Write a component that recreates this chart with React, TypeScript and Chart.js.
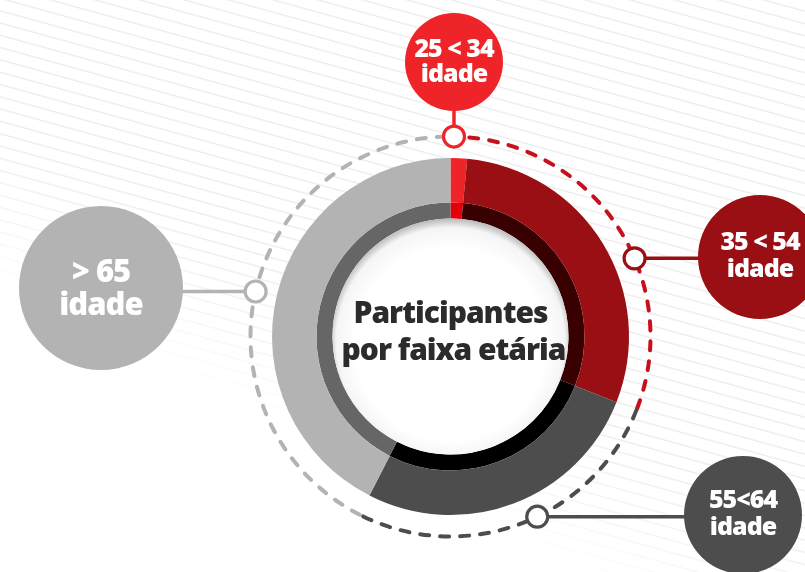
import React, { useEffect, useRef } from "react";
import { Chart, registerables } from "chart.js";

Chart.register(...registerables);

// ---- data ----
const ageGroups = ["25 < 34", "35 < 54", "55<64", "> 65"];
const ageUnit = "idade";
const participants = [1.5, 29.5, 26.5, 42.5];
const centerTitle = ["Participantes", "por faixa etária"];

// ---- styles ----
const outerColors = ["#ef2428", "#990f13", "#4d4d4d", "#b3b3b3"];
const innerColors = ["#e3000b", "#380000", "#000000", "#666666"];
const dashColors = ["#c8101c", "#c8101c", "#4d4d4d", "#b3b3b3"];
const bubbleColors = ["#ef2428", "#990f13", "#4d4d4d", "#b3b3b3"];

// label layout (marker angle clockwise from top, bubble center, radius, font size, connector direction)
const labelLayout = [
  { angle: 1, bx: 454, by: 62, br: 49, size: 25, dir: "up", l1: 57, l2: 82 },
  { angle: 67, bx: 760, by: 257, br: 62, size: 25, dir: "right", l1: 250, l2: 277 },
  { angle: 154.3, bx: 743, by: 515, br: 59, size: 25, dir: "right", l1: 508, l2: 535 },
  { angle: 283, bx: 101, by: 288, br: 82, size: 31, dir: "left", l1: 282, l2: 315 },
];

const decorPlugin = {
  id: "decor",
  beforeDraw(chart: any) {
    const ctx = chart.ctx as CanvasRenderingContext2D;
    const W = chart.width;
    const H = chart.height;
    ctx.save();
    ctx.fillStyle = "#ffffff";
    ctx.fillRect(0, 0, W, H);
    const g = ctx.createLinearGradient(-53, 108, -119, 243);
    g.addColorStop(0, "rgba(238,238,238,1)");
    g.addColorStop(1, "rgba(238,238,238,0)");
    ctx.strokeStyle = g;
    ctx.lineWidth = 1.5;
    const slope = 0.276;
    for (let y0 = -260; y0 < H + 20; y0 += 12.3) {
      ctx.beginPath();
      ctx.moveTo(0, y0);
      ctx.lineTo(W, y0 + W * slope);
      ctx.stroke();
    }
    ctx.restore();
  },
  afterDatasetsDraw(chart: any) {
    const ctx = chart.ctx as CanvasRenderingContext2D;
    const outerMeta = chart.getDatasetMeta(0);
    const innerMeta = chart.getDatasetMeta(1);
    const a0 = outerMeta.data[0];
    const cx = a0.x;
    const cy = a0.y;
    const rOuter = a0.outerRadius;
    const rHole = innerMeta.data[0].innerRadius;
    const rDash = rOuter + 21.5;

    ctx.save();
    // center white disc with soft inner shadow
    ctx.beginPath();
    ctx.arc(cx, cy, rHole, 0, Math.PI * 2);
    ctx.fillStyle = "#ffffff";
    ctx.fill();
    const sg = ctx.createRadialGradient(cx, cy + 8, rHole - 22, cx, cy + 4, rHole + 4);
    sg.addColorStop(0, "rgba(0,0,0,0)");
    sg.addColorStop(0.7, "rgba(0,0,0,0.04)");
    sg.addColorStop(1, "rgba(0,0,0,0.28)");
    ctx.beginPath();
    ctx.arc(cx, cy, rHole, 0, Math.PI * 2);
    ctx.fillStyle = sg;
    ctx.fill();

    // center title
    ctx.fillStyle = "#2b2b2b";
    ctx.font = '800 30px "Open Sans"';
    ctx.textAlign = "center";
    ctx.textBaseline = "alphabetic";
    (ctx as any).letterSpacing = "-1px";
    ctx.fillText(centerTitle[0], cx, cy - 13.5);
    ctx.fillText(centerTitle[1], cx + 3, cy + 23.5);
    (ctx as any).letterSpacing = "0px";

    // dashed ring per segment
    ctx.lineWidth = 4;
    ctx.lineCap = "round";
    ctx.setLineDash([9, 11]);
    outerMeta.data.forEach((arc: any, i: number) => {
      ctx.beginPath();
      ctx.arc(cx, cy, rDash, arc.startAngle, arc.endAngle);
      ctx.strokeStyle = dashColors[i];
      ctx.stroke();
    });
    ctx.setLineDash([]);
    ctx.lineCap = "butt";

    // connectors, markers, bubbles
    labelLayout.forEach((L, i) => {
      const th = (L.angle * Math.PI) / 180 - Math.PI / 2;
      const mx = cx + rDash * Math.cos(th);
      const my = cy + rDash * Math.sin(th);
      const col = bubbleColors[i];
      ctx.strokeStyle = col;
      ctx.lineWidth = 3.5;
      ctx.beginPath();
      ctx.moveTo(mx, my);
      if (L.dir === "up") ctx.lineTo(mx, L.by);
      else ctx.lineTo(L.bx, my);
      ctx.stroke();

      ctx.beginPath();
      ctx.arc(L.bx, L.by, L.br, 0, Math.PI * 2);
      ctx.fillStyle = col;
      ctx.fill();

      ctx.beginPath();
      ctx.arc(mx, my, 10.5, 0, Math.PI * 2);
      ctx.fillStyle = "#ffffff";
      ctx.fill();
      ctx.lineWidth = 3.2;
      ctx.stroke();

      ctx.fillStyle = "#ffffff";
      ctx.font = `800 ${L.size}px "Open Sans"`;
      ctx.textAlign = "center";
      (ctx as any).letterSpacing = "-1px";
      ctx.fillText(ageGroups[i], L.bx, L.l1);
      ctx.fillText(ageUnit, L.bx, L.l2);
      (ctx as any).letterSpacing = "0px";
    });
    ctx.restore();
  },
};

export default function App() {
  const ref = useRef<HTMLCanvasElement | null>(null);
  useEffect(() => {
    document.body.style.margin = "0";
    const canvas = ref.current;
    if (!canvas) return;
    const chart = new Chart(canvas, {
      type: "doughnut",
      data: {
        labels: ageGroups,
        datasets: [
          {
            data: participants,
            backgroundColor: outerColors,
            borderWidth: 0,
            weight: 44.5,
          } as any,
          {
            data: participants,
            backgroundColor: innerColors,
            borderWidth: 0,
            weight: 16,
          } as any,
        ],
      },
      options: {
        responsive: false,
        animation: false,
        cutout: 118,
        layout: { padding: { left: 272, right: 176, top: 158, bottom: 57 } },
        plugins: { legend: { display: false }, tooltip: { enabled: false } },
        events: [],
      } as any,
      plugins: [decorPlugin],
    });
    return () => chart.destroy();
  }, []);
  return (
    <div style={{ width: 805, height: 572, overflow: "hidden" }}>
      <canvas ref={ref} width={805} height={572} style={{ display: "block" }} />
    </div>
  );
}
